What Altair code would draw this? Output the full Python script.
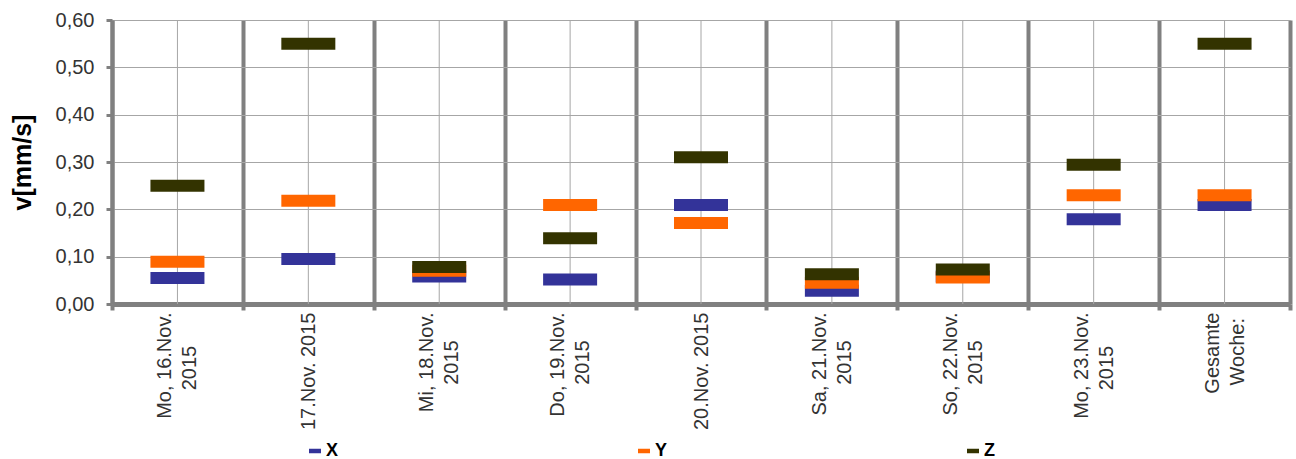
import altair as alt
import pandas as pd

# Category labels, split into their two printed lines
line1 = ["Mo, 16.Nov.", "17.Nov. 2015", "Mi, 18.Nov.", "Do, 19.Nov.", "20.Nov. 2015",
         "Sa, 21.Nov.", "So, 22.Nov.", "Mo, 23.Nov.", "Gesamte"]
line2 = ["2015", "", "2015", "2015", "", "2015", "2015", "2015", "Woche:"]

# Peak velocities per axis [mm/s]
x_vals = [0.055, 0.095, 0.058, 0.052, 0.209, 0.028, 0.058, 0.179, 0.209]
y_vals = [0.089, 0.218, 0.070, 0.209, 0.171, 0.045, 0.056, 0.230, 0.230]
z_vals = [0.250, 0.550, 0.078, 0.139, 0.310, 0.063, 0.073, 0.294, 0.550]

series = ["X", "Y", "Z"]
colors = ["#333399", "#FF6600", "#333300"]

# Approximate Arial advance widths (em) used to centre the second label line
_W = {"M": .833, "o": .556, ",": .278, " ": .278, ".": .278, "N": .722, "v": .5,
      "i": .222, "D": .722, "S": .667, "a": .556, "G": .778, "e": .556, "s": .5,
      "m": .833, "t": .278, "W": .944, "c": .5, "h": .556, ":": .278}

LINE_HEIGHT = 25


def _width(s):
    return sum(_W.get(ch, .556) for ch in s)


def make_label(a, b):
    # Lines are right-aligned by the axis; trailing no-break spaces (closed by a
    # zero-width space so they survive trimming) push the second line to the
    # middle of the first one.
    if not b:
        return a
    pad = round((_width(a) - _width(b)) / 2 / 0.278)
    return a + "\n" + b + "\u00a0" * max(pad, 0) + "\u200b"


days = [make_label(a, b) for a, b in zip(line1, line2)]

rows = []
for name, vals in zip(series, [x_vals, y_vals, z_vals]):
    for d, v in zip(days, vals):
        rows.append({"Tag": d, "Achse": name, "v": v})
df = pd.DataFrame(rows)

x_scale = alt.Scale(domain=days, paddingInner=0, paddingOuter=0)
y_scale = alt.Scale(domain=[0, 0.6], nice=False)

x_axis = alt.Axis(
    labelAngle=270, labelAlign="right", labelBaseline="middle",
    labelExpr="split(datum.label, '\\n')", labelLineHeight=LINE_HEIGHT,
    # two-line labels: shift the block so both lines straddle the band centre
    labelOffset={"condition": {"test": "indexof(datum.label, '\\n') >= 0",
                               "value": -LINE_HEIGHT / 2},
                 "value": 0},
    labelFont="Liberation Sans", labelFontSize=20, labelColor="#333333",
    labelPadding=2, labelLimit=300,
    tickBand="extent", tickSize=6, tickWidth=4, tickColor="#808080",
    domainColor="#808080", domainWidth=5,
    grid=True, gridColor="#808080", gridWidth=4,
)

x_enc = alt.X("Tag:N", scale=x_scale, sort=days, title=None, axis=x_axis)

y_enc = alt.Y(
    "v:Q", scale=y_scale, title="v[mm/s]",
    axis=alt.Axis(
        values=[0, 0.1, 0.2, 0.3, 0.4, 0.5, 0.6],
        labelExpr="replace(format(datum.value, '.2f'), '.', ',')",
        labelFont="Liberation Sans", labelFontSize=20, labelColor="#333333",
        labelPadding=12, tickSize=6, tickWidth=3, tickColor="#808080",
        domainColor="#808080", domainWidth=4,
        grid=True, gridColor="#a6a6a6", gridWidth=1,
        titleFont="Liberation Sans", titleFontSize=25, titleFontWeight="bold",
        titleColor="#000000", titlePadding=20,
    ),
)

# Thin centre line through every day
centre = alt.Chart(pd.DataFrame({"Tag": days})).mark_rule(
    color="#a6a6a6", strokeWidth=1
).encode(x=x_enc)

ticks = alt.Chart(df).mark_tick(size=54, thickness=12, opacity=1).encode(
    x=x_enc,
    y=y_enc,
    color=alt.Color(
        "Achse:N",
        scale=alt.Scale(domain=series, range=colors),
        legend=alt.Legend(
            title=None, orient="none", legendX=194, legendY=422,
            direction="horizontal", columns=3, columnPadding=296,
            symbolType="M-1,-0.375H1V0.375H-1Z", symbolSize=144, symbolStrokeWidth=0,
            labelFont="Liberation Sans", labelFontSize=18, labelFontWeight="bold",
            labelColor="#000000", labelOffset=2, labelLimit=60,
        ),
    ),
)

chart = alt.layer(centre, ticks).properties(
    width=1178, height=284,
    autosize=alt.AutoSizeParams(type="none"),
    padding={"left": 112, "top": 20, "right": 6, "bottom": 155},
).configure_view(stroke=None).configure(background="white")

chart.save("out.html", embed_options={"renderer": "svg", "actions": False})
